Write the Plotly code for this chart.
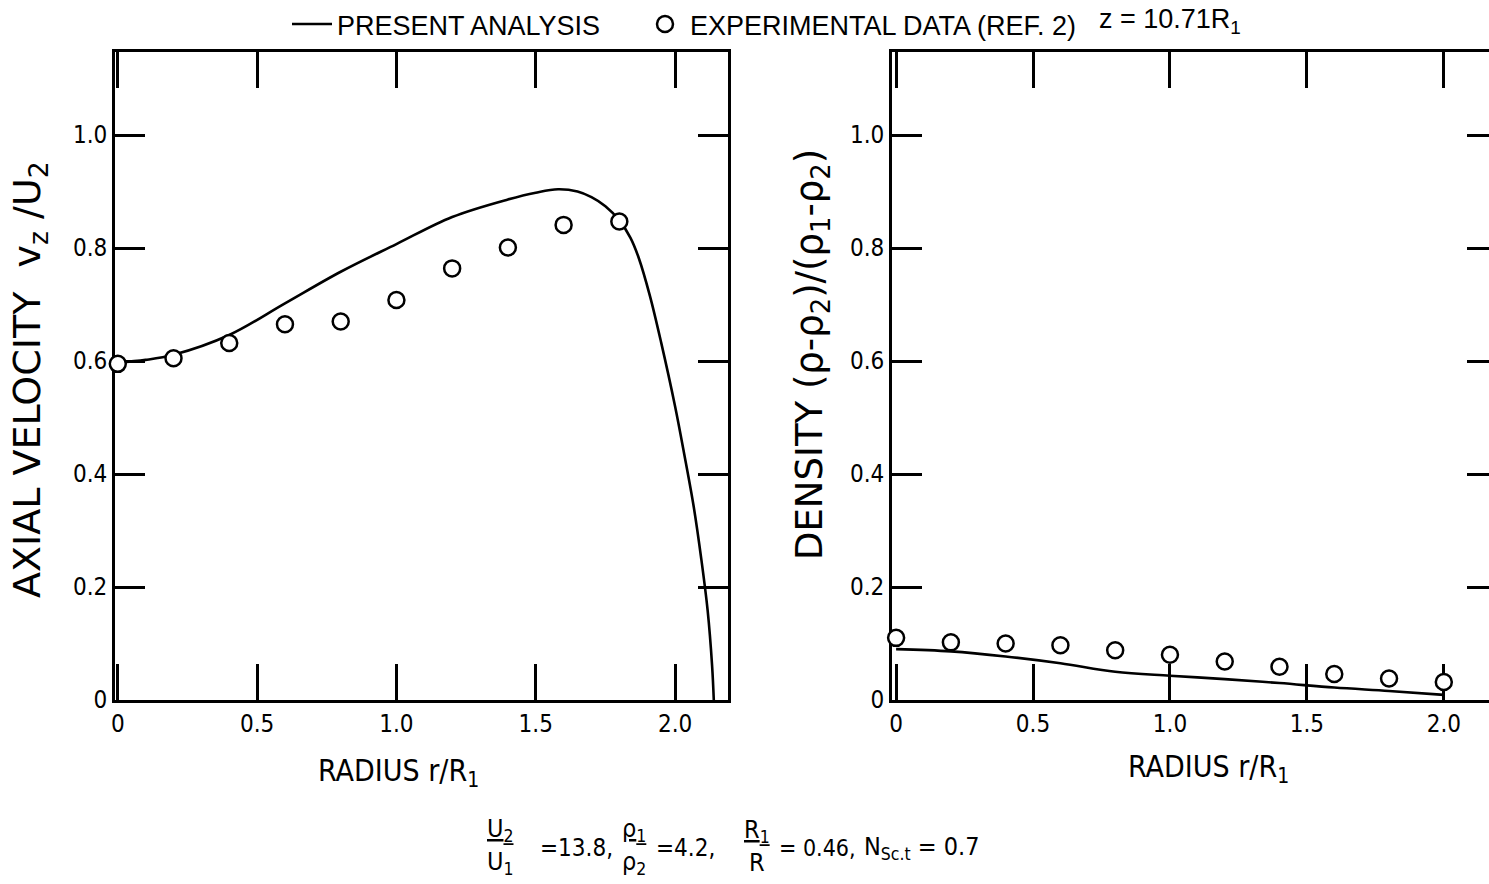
import plotly.graph_objects as go

W, H = 1489, 884

# ---------------- data ----------------
# Left panel: axial velocity vz/U2 vs r/R1
vel_curve_r = [0.0, 0.1, 0.2, 0.4, 0.6, 0.8, 1.0, 1.2, 1.4, 1.5, 1.58, 1.65, 1.7, 1.75, 1.8,
               1.84, 1.87, 1.91, 1.95, 2.0, 2.033, 2.067, 2.094, 2.117, 2.133, 2.139]
vel_curve_v = [0.597, 0.602, 0.611, 0.646, 0.702, 0.758, 0.807, 0.855, 0.886, 0.898, 0.904, 0.900,
               0.890, 0.874, 0.849, 0.818, 0.782, 0.715, 0.633, 0.520, 0.435, 0.342, 0.250, 0.158,
               0.060, 0.0]
vel_exp_r = [0.0, 0.2, 0.4, 0.6, 0.8, 1.0, 1.2, 1.4, 1.6, 1.8]
vel_exp_v = [0.595, 0.605, 0.632, 0.665, 0.670, 0.708, 0.764, 0.801, 0.841, 0.847]

# Right panel: density (rho-rho2)/(rho1-rho2) vs r/R1
den_curve_r = [0.0, 0.2, 0.4, 0.6, 0.8, 1.0, 1.2, 1.4, 1.6, 1.8, 2.0]
den_curve_v = [0.090, 0.086, 0.077, 0.065, 0.050, 0.043, 0.037, 0.030, 0.022, 0.016, 0.009]
den_exp_r = [0.0, 0.2, 0.4, 0.6, 0.8, 1.0, 1.2, 1.4, 1.6, 1.8, 2.0]
den_exp_v = [0.110, 0.102, 0.100, 0.097, 0.088, 0.080, 0.068, 0.059, 0.046, 0.038, 0.032]

x_ticks = [0, 0.5, 1.0, 1.5, 2.0]
x_ticktext = ["0", "0.5", "1.0", "1.5", "2.0"]
y_ticks = [0, 0.2, 0.4, 0.6, 0.8, 1.0]
y_ticktext = ["0", "0.2", "0.4", "0.6", "0.8", "1.0"]

# ---------------- style ----------------
COND = "DejaVu Sans Condensed, Liberation Sans Narrow, sans-serif"
REG = "Liberation Sans, Arial, sans-serif"
WIDE = "DejaVu Sans, sans-serif"
TICKFONT = dict(family=COND, size=24, color="black")
LW = 2.8

fig = go.Figure()

line_style = dict(color="black", width=2.6, shape="spline", smoothing=1.0)
marker_style = dict(symbol="circle", size=16, color="white", line=dict(color="black", width=2.5))

fig.add_trace(go.Scatter(x=vel_curve_r, y=vel_curve_v, mode="lines", line=line_style,
                         name="PRESENT ANALYSIS", xaxis="x", yaxis="y", cliponaxis=False,
                         legend="legend"))
fig.add_trace(go.Scatter(x=vel_exp_r, y=vel_exp_v, mode="markers", marker=marker_style,
                         name="EXPERIMENTAL DATA (REF. 2)", xaxis="x", yaxis="y", cliponaxis=False,
                         legend="legend2"))
fig.add_trace(go.Scatter(x=den_curve_r, y=den_curve_v, mode="lines", line=line_style,
                         showlegend=False, xaxis="x2", yaxis="y2", cliponaxis=False))
fig.add_trace(go.Scatter(x=den_exp_r, y=den_exp_v, mode="markers", marker=marker_style,
                         showlegend=False, xaxis="x2", yaxis="y2", cliponaxis=False))
# placeholder trace so the right-hand tick axis of the right panel is drawn
fig.add_trace(go.Scatter(x=[None], y=[None], mode="markers", showlegend=False,
                         xaxis="x2", yaxis="y3", hoverinfo="skip"))

ydom = [184 / H, 832 / H]
yrange = [0, 1.147]

xaxis_common = dict(
    tickvals=x_ticks, ticktext=x_ticktext, ticks="inside", ticklen=36, tickwidth=LW,
    tickcolor="black", showline=True, linecolor="black", linewidth=LW, mirror="ticks",
    showgrid=False, zeroline=False, tickfont=TICKFONT, ticklabelstandoff=0,
    layer="below traces", fixedrange=True, automargin=False,
)
yaxis_common = dict(
    tickvals=y_ticks, ticktext=y_ticktext, ticks="inside", ticklen=30, tickwidth=LW,
    tickcolor="black", showline=True, linecolor="black", linewidth=LW,
    showgrid=False, zeroline=False, tickfont=TICKFONT, ticklabelstandoff=0,
    layer="below traces", range=yrange, domain=ydom, fixedrange=True, automargin=False,
)

legend_common = dict(orientation="h", y=1.0, xanchor="left", yanchor="top",
                     font=dict(family=REG, size=27, color="black"),
                     bgcolor="rgba(0,0,0,0)", itemwidth=40)

fig.update_layout(
    width=W, height=H,
    margin=dict(l=0, r=0, t=0, b=0),
    paper_bgcolor="white", plot_bgcolor="white",
    xaxis=dict(xaxis_common, domain=[115 / W, 728 / W], range=[-0.01, 2.19], anchor="y"),
    yaxis=dict(yaxis_common, anchor="x", mirror="ticks"),
    xaxis2=dict(xaxis_common, domain=[892 / W, 1.0], range=[-0.015, 2.165], anchor="y2"),
    yaxis2=dict(yaxis_common, anchor="x2", mirror=False),
    yaxis3=dict(tickvals=y_ticks[1:], ticks="inside", ticklen=22, tickwidth=LW, tickcolor="black",
                showline=False, showgrid=False, zeroline=False, showticklabels=False,
                range=yrange, overlaying="y2", side="right", anchor="x2", fixedrange=True,
                automargin=False),
    showlegend=True,
    legend=dict(legend_common, x=287 / W),
    legend2=dict(legend_common, x=640 / W),
)

ann = []
def add(text, x, y, size=26, xanchor="center", yanchor="middle", angle=0, family=COND):
    ann.append(dict(text=text, x=x / W, y=1 - y / H, xref="paper", yref="paper",
                    xanchor=xanchor, yanchor=yanchor, showarrow=False, textangle=angle,
                    font=dict(family=family, size=size, color="black")))

add("z = 10.71R<sub>1</sub>", 1170, 21, size=27, family=REG)
# axis titles
add("AXIAL VELOCITY  v<sub>z</sub> /U<sub>2</sub>", 29, 380, size=38, angle=-90, family=WIDE)
add("DENSITY (ρ-ρ<sub>2</sub>)/(ρ<sub>1</sub>-ρ<sub>2</sub>)", 812, 355, size=37, angle=-90, family=WIDE)
add("RADIUS r/R<sub>1</sub>", 398, 772, size=30)
add("RADIUS r/R<sub>1</sub>", 1208, 768, size=30)
# parameter line
add("<u>U<sub>2</sub></u><br>U<sub>1</sub>", 500, 846, size=25)
add("=13.8,", 538, 848, size=24, xanchor="left")
add("<u>ρ<sub>1</sub></u><br>ρ<sub>2</sub>", 634, 846, size=25)
add("=4.2,", 654, 848, size=24, xanchor="left")
add("<u>R<sub>1</sub></u><br>R", 757, 846, size=25)
add("= 0.46,", 777, 848, size=23, xanchor="left")
add("N<sub>Sc.t</sub> = 0.7", 862, 848, size=25, xanchor="left")
fig.update_layout(annotations=ann)

fig.write_html("out.html")
